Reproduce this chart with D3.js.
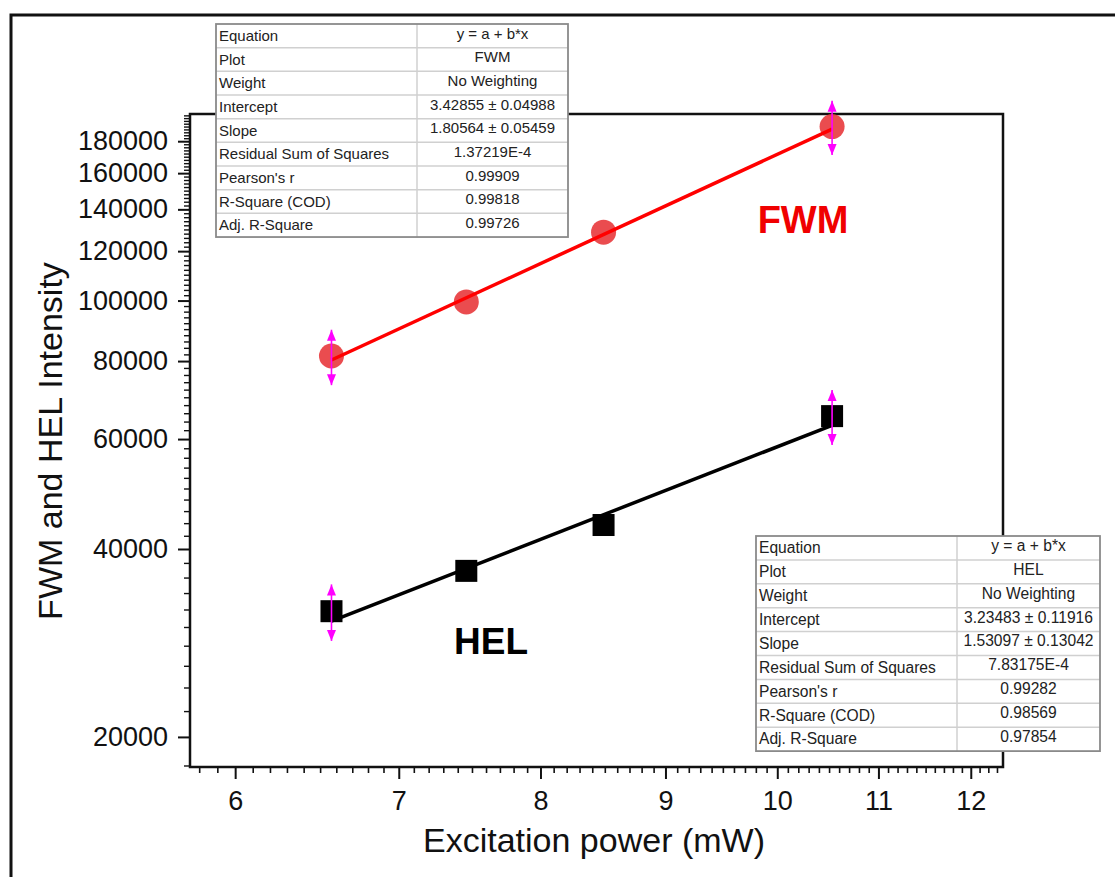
<!DOCTYPE html>
<html>
<head>
<meta charset="utf-8">
<script src="https://cdn.jsdelivr.net/npm/d3@7"></script>
<style>
  html, body { margin: 0; padding: 0; background: #fff; }
  svg { display: block; font-family: "Liberation Sans", Arial, sans-serif; }
</style>
</head>
<body>
<svg id="chart" width="1115" height="877"></svg>
<script>
// Excitation power (mW) for each measurement
const power = [6.57, 7.46, 8.49, 10.53];
// Measured intensities
const fwmIntensity = [81500, 99500, 128700, 190000];
const helIntensity = [31800, 36900, 43700, 65300];
// Error bars (only the end points carry one)
const fwmError = [8300, null, null, 19000];
const helError = [3300, null, null, 6600];

// Linear fits of log10(I) = a + b*log10(P)
const fwmFit = { a: 3.42855, b: 1.80564 };
const helFit = { a: 3.23483, b: 1.53097 };

// Axis ticks
const xTicks = [6, 7, 8, 9, 10, 11, 12];
const yTicks = [20000, 40000, 60000, 80000, 100000, 120000, 140000, 160000, 180000];

// Fit report tables
const tableLabels = ["Equation", "Plot", "Weight", "Intercept", "Slope",
  "Residual Sum of Squares", "Pearson's r", "R-Square (COD)", "Adj. R-Square"];
const fwmTableValues = ["y = a + b*x", "FWM", "No Weighting", "3.42855 \u00b1 0.04988",
  "1.80564 \u00b1 0.05459", "1.37219E-4", "0.99909", "0.99818", "0.99726"];
const helTableValues = ["y = a + b*x", "HEL", "No Weighting", "3.23483 \u00b1 0.11916",
  "1.53097 \u00b1 0.13042", "7.83175E-4", "0.99282", "0.98569", "0.97854"];

const svg = d3.select("#chart");

// Outer frame
svg.append("path")
  .attr("d", "M11,880 L11,15 L1120,15")
  .attr("fill", "none").attr("stroke", "#111").attr("stroke-width", 3);

const plot = { left: 190, right: 1003, top: 114, bottom: 767 };

const x = d3.scaleLog().domain([5.75, 12.37]).range([plot.left, plot.right]);
const y = d3.scaleLog().domain([17900, 199000]).range([plot.bottom, plot.top]);

// Minor ticks
const xMinor = d3.range(58, 124).map(v => v / 10).filter(v => Number.isInteger(v) === false);
const yMinor = d3.range(18000, 199000, 2000).filter(v => !yTicks.includes(v));

const axisG = svg.append("g");

// Bottom axis
axisG.append("g")
  .attr("transform", `translate(0,${plot.bottom})`)
  .call(d3.axisBottom(x).tickValues(xMinor).tickSize(6).tickFormat(""))
  .call(g => g.select(".domain").remove())
  .call(g => g.selectAll("line").attr("stroke", "#111").attr("stroke-width", 1.6));
axisG.append("g")
  .attr("transform", `translate(0,${plot.bottom})`)
  .call(d3.axisBottom(x).tickValues(xTicks).tickSize(12).tickPadding(12).tickFormat(d3.format("d")))
  .call(g => g.select(".domain").remove())
  .call(g => g.selectAll("line").attr("stroke", "#111").attr("stroke-width", 2))
  .call(g => g.selectAll("text").attr("font-size", 27).attr("fill", "#111")
    .attr("font-family", "'Liberation Sans', Arial, sans-serif"));

// Left axis
axisG.append("g")
  .attr("transform", `translate(${plot.left},0)`)
  .call(d3.axisLeft(y).tickValues(yMinor).tickSize(6).tickFormat(""))
  .call(g => g.select(".domain").remove())
  .call(g => g.selectAll("line").attr("stroke", "#111").attr("stroke-width", 1.4));
axisG.append("g")
  .attr("transform", `translate(${plot.left},0)`)
  .call(d3.axisLeft(y).tickValues(yTicks).tickSize(12).tickPadding(10).tickFormat(d3.format("d")))
  .call(g => g.select(".domain").remove())
  .call(g => g.selectAll("line").attr("stroke", "#111").attr("stroke-width", 2))
  .call(g => g.selectAll("text").attr("font-size", 27).attr("fill", "#111")
    .attr("font-family", "'Liberation Sans', Arial, sans-serif"));

// Plot frame
svg.append("rect")
  .attr("x", plot.left).attr("y", plot.top)
  .attr("width", plot.right - plot.left).attr("height", plot.bottom - plot.top)
  .attr("fill", "none").attr("stroke", "#111").attr("stroke-width", 2.5);

// Axis titles
svg.append("text")
  .attr("x", 594).attr("y", 852)
  .attr("text-anchor", "middle").attr("font-size", 34).attr("fill", "#111")
  .text("Excitation power (mW)");
svg.append("text")
  .attr("transform", "translate(62,441) rotate(-90)")
  .attr("text-anchor", "middle").attr("font-size", 34).attr("fill", "#111")
  .text("FWM and HEL Intensity");

// Fit lines
function fitLine(fit) {
  const xs = [d3.min(power), d3.max(power)];
  return xs.map(p => [x(p), y(Math.pow(10, fit.a + fit.b * Math.log10(p)))]);
}

const dataG = svg.append("g");

// FWM markers
dataG.selectAll("circle.fwm").data(power).join("circle")
  .attr("class", "fwm")
  .attr("cx", d => x(d)).attr("cy", (d, i) => y(fwmIntensity[i]))
  .attr("r", 12.5).attr("fill", "#e8383c").attr("fill-opacity", 0.9);

// HEL markers
const sq = 22;
dataG.selectAll("rect.hel").data(power).join("rect")
  .attr("class", "hel")
  .attr("x", d => x(d) - sq / 2).attr("y", (d, i) => y(helIntensity[i]) - sq / 2)
  .attr("width", sq).attr("height", sq).attr("fill", "#000");

dataG.append("path")
  .attr("d", d3.line()(fitLine(fwmFit)))
  .attr("stroke", "#ff0000").attr("stroke-width", 3.5).attr("fill", "none");
dataG.append("path")
  .attr("d", d3.line()(fitLine(helFit)))
  .attr("stroke", "#000").attr("stroke-width", 3.5).attr("fill", "none");

// Error bars with arrow heads
function errorBars(values, errors) {
  const g = dataG.append("g").attr("fill", "#ff00ff").attr("stroke", "#ff00ff");
  power.forEach((p, i) => {
    const e = errors[i];
    if (e == null) return;
    const cx = x(p);
    const yHi = y(values[i] + e), yLo = y(values[i] - e);
    g.append("line").attr("x1", cx).attr("x2", cx).attr("y1", yHi).attr("y2", yLo)
      .attr("stroke-width", 1.6);
    const head = 11, half = 4.5;
    g.append("path").attr("stroke", "none")
      .attr("d", `M${cx},${yHi} L${cx - half},${yHi + head} L${cx + half},${yHi + head} Z`);
    g.append("path").attr("stroke", "none")
      .attr("d", `M${cx},${yLo} L${cx - half},${yLo - head} L${cx + half},${yLo - head} Z`);
  });
}
errorBars(fwmIntensity, fwmError);
errorBars(helIntensity, helError);

// Series labels
svg.append("text").attr("x", 803).attr("y", 233)
  .attr("text-anchor", "middle").attr("font-size", 38).attr("font-weight", "bold")
  .attr("fill", "#f00000").text("FWM");
svg.append("text").attr("x", 491).attr("y", 654)
  .attr("text-anchor", "middle").attr("font-size", 37).attr("font-weight", "bold")
  .attr("fill", "#000").text("HEL");

// Fit report tables
function fitTable(x0, y0, width, col1, rowH, fontSize, values) {
  const g = svg.append("g");
  const h = rowH * tableLabels.length;
  g.append("rect").attr("x", x0).attr("y", y0).attr("width", width).attr("height", h)
    .attr("fill", "#fff").attr("stroke", "none");
  tableLabels.forEach((lab, i) => {
    if (i > 0) {
      g.append("line").attr("x1", x0).attr("x2", x0 + width)
        .attr("y1", y0 + i * rowH).attr("y2", y0 + i * rowH)
        .attr("stroke", "#d0d0d0").attr("stroke-width", 1.5);
    }
    g.append("text").attr("x", x0 + 3).attr("y", y0 + i * rowH + rowH * 0.72)
      .attr("font-size", fontSize).attr("fill", "#222").text(lab);
    g.append("text").attr("x", x0 + col1 + (width - col1) / 2).attr("y", y0 + i * rowH + rowH * 0.62)
      .attr("text-anchor", "middle")
      .attr("font-size", fontSize).attr("fill", "#222").text(values[i]);
  });
  g.append("line").attr("x1", x0 + col1).attr("x2", x0 + col1)
    .attr("y1", y0).attr("y2", y0 + h).attr("stroke", "#d0d0d0").attr("stroke-width", 1.5);
  g.append("rect").attr("x", x0).attr("y", y0).attr("width", width).attr("height", h)
    .attr("fill", "none").attr("stroke", "#8a8a8a").attr("stroke-width", 1.8);
}
fitTable(216, 24, 352, 201, 23.67, 15, fwmTableValues);
fitTable(756, 536, 344, 201, 23.9, 15.6, helTableValues);
</script>
</body>
</html>
